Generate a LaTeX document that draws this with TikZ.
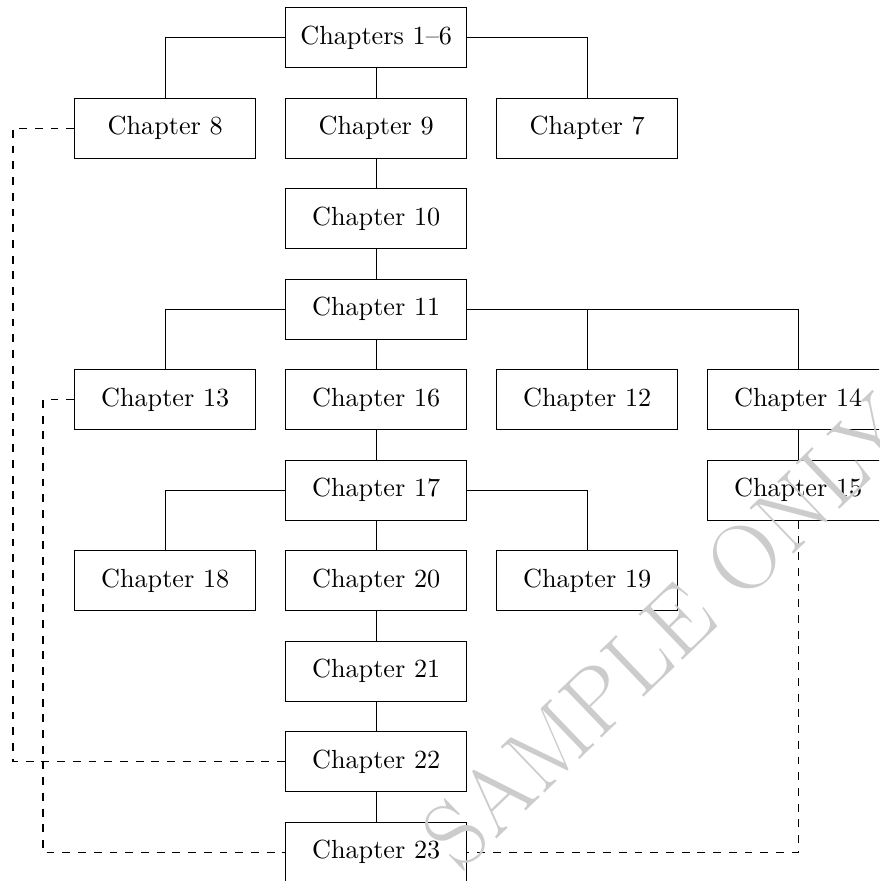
\documentclass[tikz,border=0pt]{standalone}
\begin{document}
\begin{tikzpicture}[x=0.3817pt,y=-0.3817pt,
  chap/.style={draw, minimum width=69.1pt, minimum height=22.9pt, inner sep=0pt, font=\fontsize{10}{12}\selectfont},
  link/.style={draw},
  xref/.style={draw,dashed},
  wmark/.style={inner sep=0pt, rotate=43.8, text=black!20, font=\fontsize{35.5}{40}\selectfont}]
\clip (0,0) rectangle (879,881);
% columns: 165.2, 376.2, 587.2, 798.2 ; rows: 37.7 + 90.5 k
\node[chap] (c1) at (376.2,37.7) {Chapters 1--6};
\node[chap] (c8) at (165.2,128.2) {Chapter 8};
\node[chap] (c9) at (376.2,128.2) {Chapter 9};
\node[chap] (c7) at (587.2,128.2) {Chapter 7};
\node[chap] (c10) at (376.2,218.7) {Chapter 10};
\node[chap] (c11) at (376.2,309.2) {Chapter 11};
\node[chap] (c13) at (165.2,399.7) {Chapter 13};
\node[chap] (c16) at (376.2,399.7) {Chapter 16};
\node[chap] (c12) at (587.2,399.7) {Chapter 12};
\node[chap] (c14) at (798.2,399.7) {Chapter 14};
\node[chap] (c17) at (376.2,490.2) {Chapter 17};
\node[chap] (c15) at (798.2,490.2) {Chapter 15};
\node[chap] (c18) at (165.2,580.7) {Chapter 18};
\node[chap] (c20) at (376.2,580.7) {Chapter 20};
\node[chap] (c19) at (587.2,580.7) {Chapter 19};
\node[chap] (c21) at (376.2,671.2) {Chapter 21};
\node[chap] (c22) at (376.2,761.7) {Chapter 22};
\node[chap] (c23) at (376.2,852.2) {Chapter 23};
\coordinate (la) at (13,0);
\coordinate (lb) at (43,0);
% tree links
\draw[link] (c1.west) -| (c8.north);
\draw[link] (c1.east) -| (c7.north);
\draw[link] (c1.south) -- (c9.north);
\draw[link] (c9.south) -- (c10.north);
\draw[link] (c10.south) -- (c11.north);
\draw[link] (c11.west) -| (c13.north);
\draw[link] (c11.south) -- (c16.north);
\draw[link] (c11.east) -| (c14.north);
\draw[link] (c12.north) -- (c12.north |- c11.east);
\draw[link] (c14.south) -- (c15.north);
\draw[link] (c16.south) -- (c17.north);
\draw[link] (c17.west) -| (c18.north);
\draw[link] (c17.east) -| (c19.north);
\draw[link] (c17.south) -- (c20.north);
\draw[link] (c20.south) -- (c21.north);
\draw[link] (c21.south) -- (c22.north);
\draw[link] (c22.south) -- (c23.north);
% cross references
\draw[xref] (c8.west) -- (c8.west -| la) -- (c22.west -| la) -- (c22.west);
\draw[xref] (c13.west) -- (c13.west -| lb) -- (c23.west -| lb) -- (c23.west);
\draw[xref] (c15.south) |- (c23.east);
% watermark
\node[wmark] (wm) at (666.6,631.7) {SAMPLE ONLY};
\end{tikzpicture}
\end{document}
